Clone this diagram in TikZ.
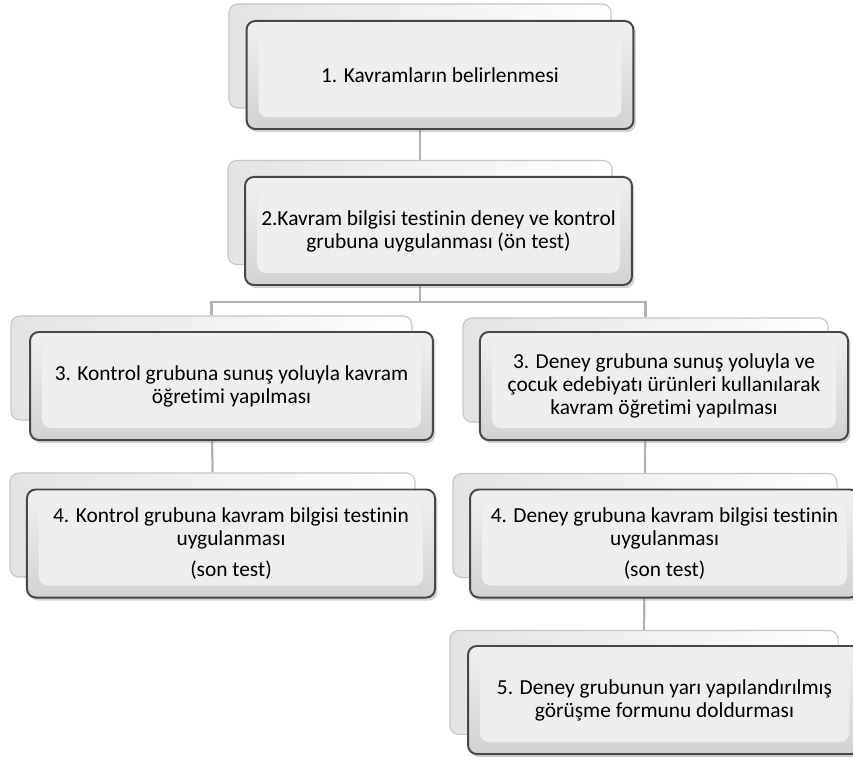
\documentclass[tikz,border=0pt]{standalone}
\usepackage{fontspec}
\setmainfont{Carlito}[Ligatures=NoCommon]
\usetikzlibrary{shadows}

\tikzstyle{back}=[rectangle,draw=gray!45,line width=0.8pt,rounded corners=0.22cm,left color=gray!22,right color=white,minimum height=2.6cm]
\tikzstyle{front}=[rectangle,draw=black!72,line width=1.4pt,rounded corners=0.22cm,top color=gray!12,bottom color=gray!35,minimum height=2.7cm,align=center,
  drop shadow={shadow xshift=0.06cm,shadow yshift=-0.08cm,opacity=0.35},
  path picture={\fill[gray!13] ([shift={(0.3cm,-0.3cm)}]path picture bounding box.north west) rectangle ([shift={(-0.3cm,0.3cm)}]path picture bounding box.south east);}]
\tikzstyle{link}=[draw=gray!60,line width=1.6pt]

\begin{document}
\begin{tikzpicture}[x=0.025cm,y=-0.025cm,font=\fontsize{15.2}{16.4}\selectfont]
\useasboundingbox (0,0) rectangle (853,760);
\clip (0,0) rectangle (853,760);

% back panels
\node[back,minimum width=9.55cm] (kavb) at (420,56) {};
\node[back,minimum width=9.6cm] (onTestb) at (420,212.5) {};
\node[back,minimum width=10.02cm] (kontSunumb) at (211.5,368) {};
\node[back,minimum width=9.12cm] (denSunumb) at (645.5,370) {};
\node[back,minimum width=10.12cm] (kontSonb) at (212.5,525) {};
\node[back,minimum width=9.6cm] (denSonb) at (645,525.5) {};
\node[back,minimum width=9.7cm] (gorusmeb) at (644,682.5) {};

% connectors
\coordinate (fork) at (420,302);
\draw[link] (kavb.center) -- (onTestb.north);
\draw[link] (onTestb.center) -- (fork) -| (kontSunumb.north);
\draw[link] (fork) -| (denSunumb.north);
\draw[link] (kontSunumb.center) -- (kontSonb.north);
\draw[link] (denSunumb.center) -- (denSonb.north);
\draw[link] (denSonb.center) -- (gorusmeb.north);

% front boxes
\node[front,minimum width=9.67cm] (kav) at (440,75) {1. Kavramların belirlenmesi};
\node[front,minimum width=9.67cm] (onTest) at (438.5,231) {2.Kavram bilgisi testinin deney ve kontrol\\grubuna uygulanması (ön test)};
\node[front,minimum width=10.07cm] (kontSunum) at (231.5,386) {3. Kontrol grubuna sunuş yoluyla kavram\\öğretimi yapılması};
\node[front,minimum width=9.2cm] (denSunum) at (664,386) {3. Deney grubuna sunuş yoluyla ve\\çocuk edebiyatı ürünleri kullanılarak\\kavram öğretimi yapılması};
\node[front,minimum width=10.2cm] (kontSon) at (231,543.5) {4. Kontrol grubuna kavram bilgisi testinin\\uygulanması\\[6pt](son test)};
\node[front,minimum width=9.72cm] (denSon) at (664.5,543.5) {4. Deney grubuna kavram bilgisi testinin\\uygulanması\\[6pt](son test)};
\node[front,minimum width=9.82cm] (gorusme) at (664.5,700) {5. Deney grubunun yarı yapılandırılmış\\görüşme formunu doldurması};
\end{tikzpicture}
\end{document}
